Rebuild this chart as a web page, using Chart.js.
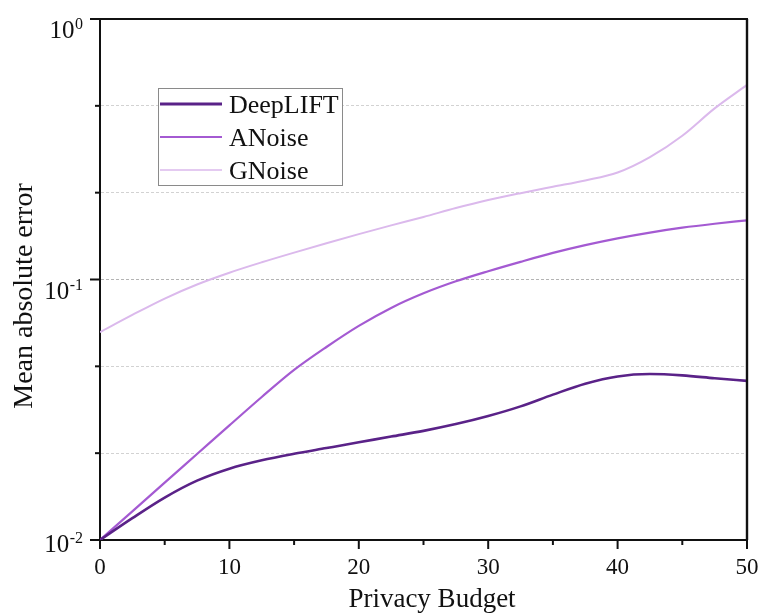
<!DOCTYPE html>
<html>
<head>
<meta charset="utf-8">
<script src="https://cdn.jsdelivr.net/npm/chart.js@4.4.1/dist/chart.umd.min.js"></script>
<style>
  html, body { margin: 0; padding: 0; background: #ffffff; }
  #c { display: block; }
</style>
</head>
<body>
<canvas id="c" width="760" height="613"></canvas>
<script>
// ---- data ----
const privacyBudget = [0, 2.5, 5, 7.5, 10, 12.5, 15, 17.5, 20, 22.5, 25, 27.5, 30, 32.5, 35, 37.5, 40, 42.5, 45, 47.5, 50];
const deepLIFT = [0.0100, 0.01213, 0.01455, 0.01690, 0.01879, 0.02023, 0.02143, 0.02254, 0.02371, 0.02495, 0.02624, 0.02786, 0.02992, 0.03258, 0.03614, 0.03981, 0.04246, 0.04335, 0.04285, 0.04178, 0.04083];
const aNoise   = [0.0100, 0.01288, 0.01660, 0.02138, 0.02754, 0.03540, 0.04498, 0.05508, 0.06637, 0.07780, 0.08851, 0.09840, 0.1076, 0.1169, 0.1265, 0.1355, 0.1439, 0.1514, 0.1581, 0.1637, 0.1687];
const gNoise   = [0.0628, 0.0731, 0.0845, 0.0957, 0.1062, 0.1164, 0.1268, 0.1377, 0.1493, 0.1614, 0.1738, 0.1880, 0.2018, 0.2145, 0.2270, 0.2400, 0.2575, 0.2951, 0.3565, 0.4539, 0.5585];
const seriesNames = ['DeepLIFT', 'ANoise', 'GNoise'];
const xTickValues = [0, 10, 20, 30, 40, 50];
const xMinorTickValues = [5, 15, 25, 35, 45];
const yMajorExponents = [-2, -1, 0];
const yTickExponents = [-2, -5/3, -4/3, -1, -2/3, -1/3, 0];
const xTitle = 'Privacy Budget';
const yTitle = 'Mean absolute error';

const colors = ['#5a2288', '#a45ad2', '#dbb9ec'];
const widths = [2.6, 2.2, 2.0];
const SERIF = "'Liberation Serif', 'Times New Roman', serif";

const seriesValues = [deepLIFT, aNoise, gNoise];
const datasets = seriesNames.map((name, i) => ({
  label: name,
  data: privacyBudget.map((x, j) => ({ x: x, y: seriesValues[i][j] })),
  borderColor: colors[i],
  backgroundColor: colors[i],
  borderWidth: widths[i],
  pointRadius: 0,
  cubicInterpolationMode: 'monotone',
  fill: false,
  order: i
}));

const overlay = {
  id: 'overlay',
  beforeDraw(chart) {
    const ctx = chart.ctx;
    ctx.save();
    ctx.fillStyle = '#ffffff';
    ctx.fillRect(0, 0, chart.width, chart.height);
    ctx.restore();
  },
  afterDraw(chart) {
    const { ctx, chartArea: a, scales: { x, y } } = chart;
    ctx.save();
    ctx.strokeStyle = '#111111';
    ctx.lineCap = 'butt';
    // top and right frame
    ctx.lineWidth = 2;
    ctx.beginPath(); ctx.moveTo(a.left - 1, a.top); ctx.lineTo(a.right + 1, a.top); ctx.stroke();
    ctx.lineWidth = 2.4;
    ctx.beginPath(); ctx.moveTo(a.right, a.top); ctx.lineTo(a.right, a.bottom); ctx.stroke();
    // x tick marks
    ctx.lineWidth = 2;
    xTickValues.concat(xMinorTickValues).forEach(v => {
      const px = x.getPixelForValue(v);
      const len = xTickValues.includes(v) ? 9 : 5;
      ctx.beginPath(); ctx.moveTo(px, a.bottom); ctx.lineTo(px, a.bottom + len); ctx.stroke();
    });
    // y tick marks
    yTickExponents.forEach((e, i) => {
      const py = y.getPixelForValue(Math.pow(10, e));
      const len = (i % 3 === 0) ? 10 : 5;
      ctx.beginPath(); ctx.moveTo(a.left - len, py); ctx.lineTo(a.left, py); ctx.stroke();
    });
    // y tick labels 10^e
    ctx.fillStyle = '#111111';
    ctx.textAlign = 'right';
    ctx.textBaseline = 'alphabetic';
    yMajorExponents.forEach(e => {
      const py = y.getPixelForValue(Math.pow(10, e));
      const base = py + (e === -2 ? 12 : 19);
      const right = 83;
      ctx.font = '16px ' + SERIF;
      const expText = String(e);
      const ew = ctx.measureText(expText).width;
      ctx.fillText(expText, right, base - 9);
      ctx.font = '25px ' + SERIF;
      ctx.fillText('10', right - ew - 0.5, base);
    });
    // axis titles
    ctx.font = '27px ' + SERIF;
    ctx.textAlign = 'center';
    ctx.fillText(xTitle, 432, 607);
    ctx.save();
    ctx.translate(32, 296);
    ctx.rotate(-Math.PI / 2);
    ctx.font = '28px ' + SERIF;
    ctx.fillText(yTitle, 0, 0);
    ctx.restore();
    // legend
    ctx.fillStyle = '#ffffff';
    ctx.fillRect(158, 88, 184, 97);
    ctx.strokeStyle = '#8a8a8a';
    ctx.lineWidth = 1;
    ctx.strokeRect(158.5, 88.5, 184, 97);
    chart.data.datasets.forEach((ds, i) => {
      const ly = 104 + i * 33;
      ctx.strokeStyle = ds.borderColor;
      ctx.lineWidth = [3, 2.2, 1.6][i];
      ctx.beginPath(); ctx.moveTo(160, ly); ctx.lineTo(222, ly); ctx.stroke();
      ctx.fillStyle = '#111111';
      ctx.font = '26px ' + SERIF;
      ctx.textAlign = 'left';
      ctx.fillText(ds.label, 229, ly + 9);
    });
    ctx.restore();
  }
};

new Chart(document.getElementById('c'), {
  type: 'line',
  data: { datasets: datasets },
  options: {
    responsive: false,
    animation: false,
    devicePixelRatio: 1,
    layout: { padding: { top: 19, right: 13, left: 0, bottom: 0 } },
    plugins: { legend: { display: false }, title: { display: false }, tooltip: { enabled: false } },
    scales: {
      x: {
        type: 'linear',
        min: 0, max: 50,
        afterFit(s) { s.height = 73; s.paddingLeft = 0; s.paddingRight = 0; },
        afterBuildTicks(s) { s.ticks = xTickValues.map(v => ({ value: v })); },
        ticks: {
          autoSkip: false,
          maxRotation: 0,
          padding: 14,
          color: '#111111',
          font: { family: SERIF, size: 23 },
          callback: v => String(v)
        },
        grid: { display: false, drawTicks: false },
        border: { display: true, color: '#111111', width: 2 }
      },
      y: {
        type: 'logarithmic',
        min: 0.01, max: 1,
        afterFit(s) { s.width = 100; s.paddingTop = 0; s.paddingBottom = 0; },
        afterBuildTicks(s) { s.ticks = yTickExponents.map(e => ({ value: Math.pow(10, e) })); },
        ticks: { autoSkip: false, callback: () => '' },
        grid: {
          drawTicks: false,
          lineWidth: 1,
          color: ctx => {
            const i = ctx.index;
            if (i === 0 || i === yTickExponents.length - 1) return 'rgba(0,0,0,0)';
            return i === 3 ? '#b4b4b4' : '#d2d2d2';
          }
        },
        border: { display: true, color: '#111111', width: 2, dash: [3, 2] }
      }
    }
  },
  plugins: [overlay]
});
</script>
</body>
</html>
